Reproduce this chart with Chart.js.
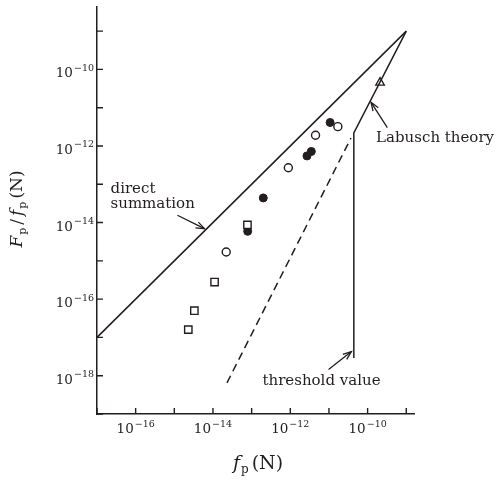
<!DOCTYPE html>
<html>
<head>
<meta charset="utf-8">
<script src="https://cdn.jsdelivr.net/npm/chart.js@4"></script>
<style>
  body { margin: 0; background: #fff; }
  #wrap { width: 497px; height: 483px; }
</style>
</head>
<body>
<div id="wrap"><canvas id="myChart" width="497" height="483"></canvas></div>
<script>
'use strict';

// DANE (log-log)

const squareX = [2.3e-15, 3.3e-15, 1.1e-14, 7.8e-14];
const squareY = [1.6e-17, 5.0e-17, 2.8e-16, 8.7e-15];

const dotX = [7.9e-14, 2.0e-13, 2.7e-12, 3.5e-12, 1.07e-11];
const dotY = [5.9e-15, 4.4e-14, 5.5e-13, 7.2e-13, 4.1e-12];

const ringX = [2.2e-14, 8.9e-13, 4.5e-12, 1.7e-11];
const ringY = [1.7e-15, 2.7e-13, 1.9e-12, 3.2e-12];

const triX = [2.1e-10];
const triY = [4.5e-11];

// linie
const directX = [1e-17, 1e-9];
const directY = [1e-17, 1e-9];

const labuschX = [1e-9, 4.4e-11, 4.4e-11];
const labuschY = [1e-9, 2.2e-12, 2.9e-18];

const dashX = [2.3e-14, 3.7e-11];
const dashY = [6.5e-19, 1.6e-12];

// wykładniki dekad
const xDecades = [-17, -16, -15, -14, -13, -12, -11, -10, -9];
const yDecades = [-19, -18, -17, -16, -15, -14, -13, -12, -11, -10, -9];
const xLabelExp = [-16, -14, -12, -10];
const yLabelExp = [-18, -16, -14, -12, -10];

const ink = '#231d1d';
const serif = '"DejaVu Serif", "Liberation Serif", serif';

function pts(xs, ys) {
  return xs.map(function(x, i) { return { x: x, y: ys[i] }; });
}

// napisy z tekstem i strzałkami (współrzędne w danych)
const notes = [
  { lines: ['direct', 'summation'], x: 10 ** -16.65, y: [10 ** -13.12, 10 ** -13.51],
    from: [10 ** -14.92, 10 ** -13.81], to: [10 ** -14.22, 10 ** -14.16] },
  { lines: ['Labusch theory'], x: 10 ** -9.78, y: [10 ** -11.80],
    from: [10 ** -9.49, 10 ** -11.52], to: [10 ** -9.91, 10 ** -10.86] },
  { lines: ['threshold value'], x: 10 ** -12.72, y: [10 ** -18.13],
    from: [10 ** -11.01, 10 ** -17.84], to: [10 ** -10.42, 10 ** -17.37] }
];

function arrow(ctx, x1, y1, x2, y2) {
  const a = Math.atan2(y2 - y1, x2 - x1);
  const h = 9, w = 0.36;
  ctx.beginPath();
  ctx.moveTo(x1, y1);
  ctx.lineTo(x2, y2);
  ctx.stroke();
  ctx.beginPath();
  ctx.moveTo(x2 - h * Math.cos(a - w), y2 - h * Math.sin(a - w));
  ctx.lineTo(x2, y2);
  ctx.lineTo(x2 - h * Math.cos(a + w), y2 - h * Math.sin(a + w));
  ctx.stroke();
}

function power(ctx, exp, x, y, align) {
  // "10" + wykładnik, y = linia bazowa "10"
  const big = '13.5px ' + serif, small = '9.5px ' + serif;
  const sup = '\u2212' + Math.abs(exp);
  ctx.font = big;
  const w1 = ctx.measureText('10').width;
  ctx.font = small;
  const w2 = ctx.measureText(sup).width;
  let left = x;
  if (align === 'right') left = x - w1 - w2 - 1;
  if (align === 'center') left = x - (w1 + w2 + 1) / 2;
  ctx.textAlign = 'left';
  ctx.textBaseline = 'alphabetic';
  ctx.font = big;
  ctx.fillText('10', left, y);
  ctx.font = small;
  ctx.fillText(sup, left + w1 + 1, y - 6.5);
}

function titleParts(ctx, parts, cx, cy) {
  let total = 0;
  parts.forEach(function(p) { ctx.font = p.f; total += ctx.measureText(p.t).width + (p.gap || 0); });
  let x = cx - total / 2;
  parts.forEach(function(p) {
    ctx.font = p.f;
    ctx.fillText(p.t, x, cy + (p.dy || 0));
    x += ctx.measureText(p.t).width + (p.gap || 0);
  });
}

const decor = {
  id: 'decor',
  afterDraw: function(chart) {
    const ctx = chart.ctx;
    const xs = chart.scales.x, ys = chart.scales.y;
    const area = chart.chartArea;
    ctx.save();
    ctx.strokeStyle = ink;
    ctx.fillStyle = ink;
    ctx.lineWidth = 1.4;

    // ząbki do środka
    ctx.beginPath();
    xDecades.forEach(function(e) {
      const px = xs.getPixelForValue(10 ** e);
      ctx.moveTo(px, area.bottom);
      ctx.lineTo(px, area.bottom - 6);
    });
    yDecades.forEach(function(e) {
      const py = ys.getPixelForValue(10 ** e);
      ctx.moveTo(area.left, py);
      ctx.lineTo(area.left + 6, py);
    });
    ctx.stroke();

    // podpisy osi
    xLabelExp.forEach(function(e) {
      power(ctx, e, xs.getPixelForValue(10 ** e), area.bottom + 19, 'center');
    });
    yLabelExp.forEach(function(e) {
      power(ctx, e, area.left - 3, ys.getPixelForValue(10 ** e) + 8, 'right');
    });

    // tytuły osi
    ctx.textAlign = 'left';
    ctx.textBaseline = 'alphabetic';
    const it = 'italic 19px ' + serif, up = '19px ' + serif, sub = '12px ' + serif;
    titleParts(ctx, [
      { t: 'f', f: it, gap: 1 }, { t: 'p', f: sub, dy: 4, gap: 3 }, { t: '(N)', f: up }
    ], 258, 469);
    const it2 = 'italic 17px ' + serif, up2 = '17px ' + serif, sub2 = '11px ' + serif;
    ctx.save();
    ctx.translate(22, 209);
    ctx.rotate(-Math.PI / 2);
    titleParts(ctx, [
      { t: 'F', f: it2, gap: 1 }, { t: 'p', f: sub2, dy: 3.5, gap: 3 }, { t: '/', f: up2, gap: 3 },
      { t: 'f', f: it2, gap: 1 }, { t: 'p', f: sub2, dy: 3.5, gap: 3 }, { t: '(N)', f: up2 }
    ], 0, 0);
    ctx.restore();

    // adnotacje
    ctx.lineWidth = 1.3;
    notes.forEach(function(n) {
      ctx.font = '15px ' + serif;
      ctx.textAlign = 'left';
      ctx.textBaseline = 'middle';
      n.lines.forEach(function(t, i) {
        ctx.fillText(t, xs.getPixelForValue(n.x), ys.getPixelForValue(n.y[i]));
      });
      arrow(ctx, xs.getPixelForValue(n.from[0]), ys.getPixelForValue(n.from[1]),
        xs.getPixelForValue(n.to[0]), ys.getPixelForValue(n.to[1]));
    });
    ctx.restore();
  }
};

function decadeTicks(list) {
  return function(scale) {
    scale.ticks = list.map(function(e) { return { value: 10 ** e }; });
  };
}

const ctx = document.getElementById('myChart').getContext('2d');

const chart = new Chart(ctx, {
  type: 'scatter',
  data: {
    datasets: [
      {
        label: 'direct summation',
        data: pts(directX, directY),
        showLine: true, pointRadius: 0,
        borderColor: ink, borderWidth: 1.5
      },
      {
        label: 'Labusch theory',
        data: pts(labuschX, labuschY),
        showLine: true, pointRadius: 0,
        borderColor: ink, borderWidth: 1.5
      },
      {
        label: 'dashed',
        data: pts(dashX, dashY),
        showLine: true, pointRadius: 0,
        borderColor: ink, borderWidth: 1.5, borderDash: [8, 5]
      },
      {
        label: 'squares',
        data: pts(squareX, squareY),
        pointStyle: 'rect', pointRadius: 5.2,
        backgroundColor: '#fff', borderColor: ink, borderWidth: 1.4
      },
      {
        label: 'open circles',
        data: pts(ringX, ringY),
        pointStyle: 'circle', pointRadius: 4,
        backgroundColor: '#fff', borderColor: ink, borderWidth: 1.4
      },
      {
        label: 'filled circles',
        data: pts(dotX, dotY),
        pointStyle: 'circle', pointRadius: 4,
        backgroundColor: ink, borderColor: ink, borderWidth: 1
      },
      {
        label: 'triangle',
        data: pts(triX, triY),
        pointStyle: 'triangle', pointRadius: 5,
        backgroundColor: '#fff', borderColor: ink, borderWidth: 1.3
      }
    ]
  },
  options: {
    responsive: false,
    animation: false,
    events: [],
    layout: { padding: { top: 4, right: 83, left: 0, bottom: 0 } },
    plugins: {
      legend: { display: false },
      tooltip: { enabled: false }
    },
    scales: {
      x: {
        type: 'logarithmic',
        min: 1e-17,
        max: 10 ** -8.8,
        grid: { display: false },
        border: { display: true, color: ink, width: 1.5 },
        ticks: { display: false },
        afterBuildTicks: decadeTicks(xDecades),
        afterFit: function(scale) { scale.height = 69; }
      },
      y: {
        type: 'logarithmic',
        min: 1e-19,
        max: 10 ** -8.36,
        grid: { display: false },
        border: { display: true, color: ink, width: 1.5 },
        ticks: { display: false },
        afterBuildTicks: decadeTicks(yDecades),
        afterFit: function(scale) { scale.width = 97; }
      }
    }
  },
  plugins: [decor]
});
</script>
</body>
</html>
